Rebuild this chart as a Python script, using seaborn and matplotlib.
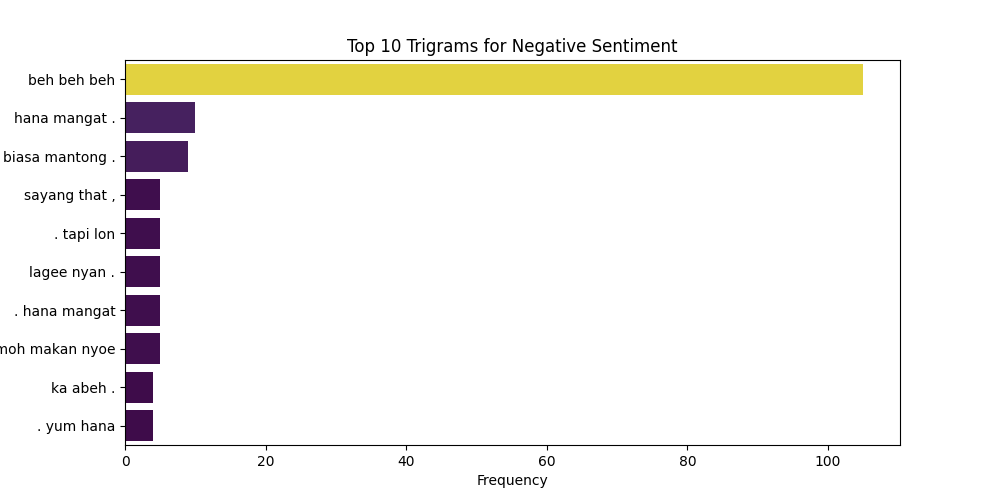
import matplotlib
matplotlib.use("Agg")
import matplotlib.pyplot as plt
import seaborn as sns
import pandas as pd

trigrams = ["beh beh beh", "hana mangat .", "biasa mantong .", "sayang that ,",
            ". tapi lon", "lagee nyan .", ". hana mangat", "jamoh makan nyoe",
            "ka abeh .", ". yum hana"]
counts = [105, 10, 9, 5, 5, 5, 5, 5, 4, 4]

df = pd.DataFrame({"trigram": trigrams, "count": counts})

fig, ax = plt.subplots(figsize=(10, 5), dpi=100)
sns.barplot(data=df, x="count", y="trigram", hue="count", palette="viridis",
            legend=False, ax=ax)
ax.set_title("Top 10 Trigrams for Negative Sentiment")
ax.set_xlabel("Frequency")
ax.set_ylabel("")
fig.savefig("out.png", dpi=100)
